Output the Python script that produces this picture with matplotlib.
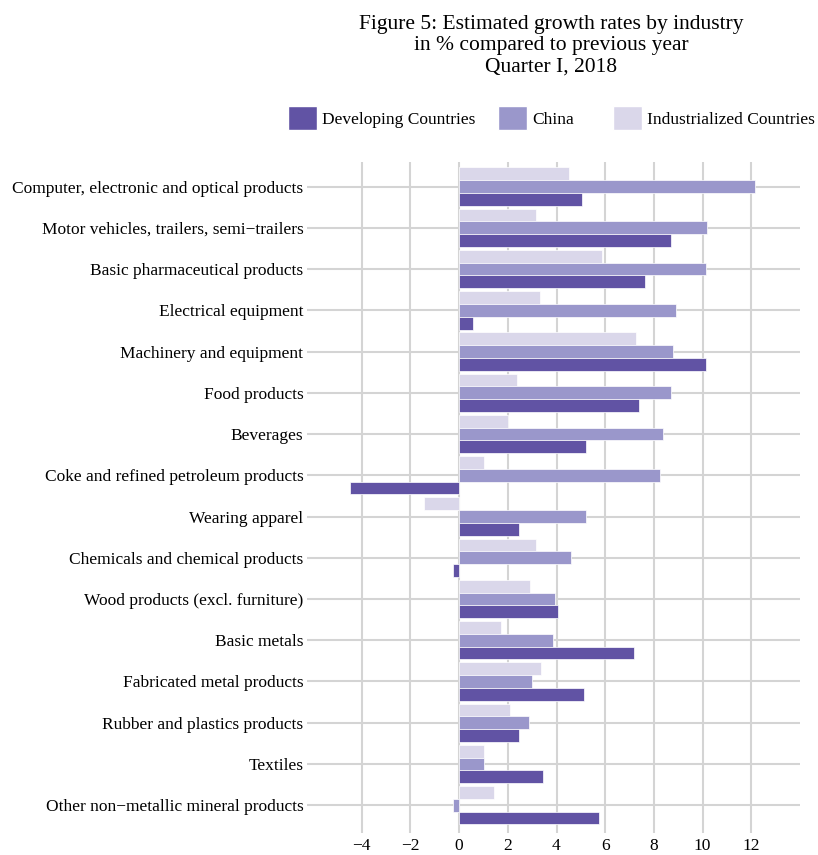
import matplotlib
matplotlib.use("Agg")
import matplotlib.pyplot as plt
import numpy as np
from matplotlib.patches import Patch

plt.rcParams['font.family'] = ['Liberation Serif', 'DejaVu Serif']

categories = [
    "Computer, electronic and optical products",
    "Motor vehicles, trailers, semi\u2212trailers",
    "Basic pharmaceutical products",
    "Electrical equipment",
    "Machinery and equipment",
    "Food products",
    "Beverages",
    "Coke and refined petroleum products",
    "Wearing apparel",
    "Chemicals and chemical products",
    "Wood products (excl. furniture)",
    "Basic metals",
    "Fabricated metal products",
    "Rubber and plastics products",
    "Textiles",
    "Other non\u2212metallic mineral products",
]
developing = [5.05, 8.69, 7.63, 0.58, 10.14, 7.39, 5.2, -4.49, 2.48, -0.25, 4.06, 7.18, 5.13, 2.48, 3.46, 5.73]
china = [12.17, 10.2, 10.14, 8.91, 8.77, 8.69, 8.39, 8.24, 5.2, 4.6, 3.93, 3.85, 3.0, 2.86, 1.03, -0.25]
industrialized = [4.51, 3.16, 5.87, 3.31, 7.25, 2.39, 2.0, 1.03, -1.45, 3.16, 2.93, 1.72, 3.38, 2.09, 1.03, 1.42]
xticks = [-4, -2, 0, 2, 4, 6, 8, 10, 12]
series_names = ['Developing Countries', 'China', 'Industrialized Countries']

c_dev = '#6153A4'
c_chn = '#9A97CB'
c_ind = '#DAD7EA'
c_grid = '#D4D4D4'

fig = plt.figure(figsize=(8.18, 8.55), dpi=100)
ax = fig.add_axes([313/818, 1-827/855, (800-313)/818, (827-162.3)/855])

y = np.arange(len(categories))
h = 0.31
ax.barh(y - h, industrialized, height=h, color=c_ind, edgecolor='white', linewidth=0.5, zorder=2)
ax.barh(y, china, height=h, color=c_chn, edgecolor='white', linewidth=0.5, zorder=2)
ax.barh(y + h, developing, height=h, color=c_dev, edgecolor='white', linewidth=0.5, zorder=2)

ax.set_xlim(-6, 14)
ax.set_ylim(len(categories) - 1 + 0.53, -0.59)
ax.set_xticks(xticks)
ax.set_yticks(y)
ax.set_yticklabels(categories)
ax.tick_params(axis='both', length=4, width=1.5, color=c_grid, labelsize=12.5)
ax.tick_params(axis='y', pad=3)
ax.tick_params(axis='x', pad=4)
ax.grid(True, color=c_grid, linewidth=1.5, zorder=0)
ax.set_axisbelow(True)
for s in ax.spines.values():
    s.set_visible(False)

fig.text(551/818, 1-15/855, "Figure 5: Estimated growth rates by industry\nin % compared to previous year\nQuarter I, 2018",
         ha='center', va='top', fontsize=15.5, linespacing=1.16)

# one legend entry per column, at the reference's column positions
legend_x = [288, 498, 613]
for name, col, lx in zip(series_names, [c_dev, c_chn, c_ind], legend_x):
    fig.legend(handles=[Patch(facecolor=col, edgecolor='white', label=name)],
               loc='center left', bbox_to_anchor=(lx/818, 1-118/855),
               frameon=False, fontsize=12.5, handlelength=1.67, handleheight=1.67,
               handletextpad=0.29, borderpad=0, borderaxespad=0)

fig.savefig('out.png', dpi=100)
